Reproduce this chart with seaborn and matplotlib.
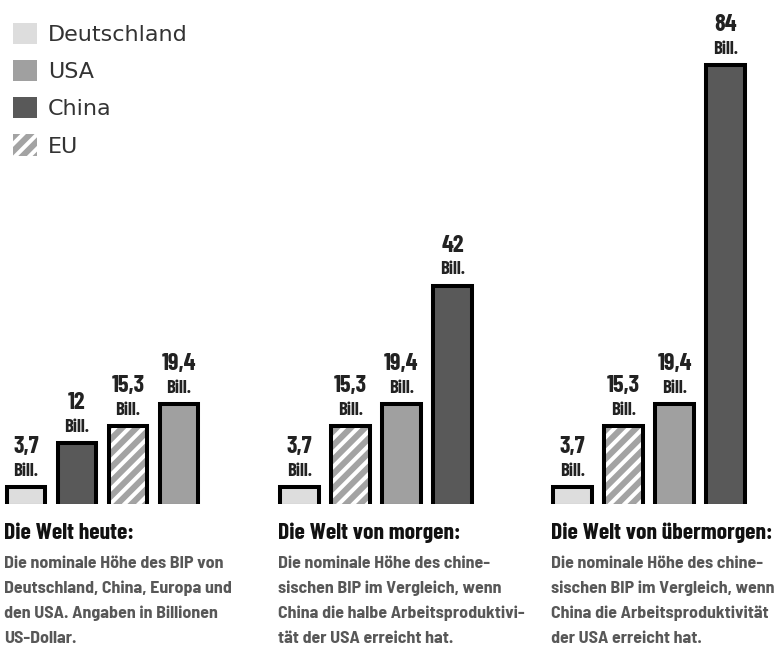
import matplotlib
matplotlib.use("Agg")
import matplotlib.pyplot as plt
from matplotlib.patches import Patch
from matplotlib.colors import to_rgba
from matplotlib.backend_bases import GraphicsContextBase
import seaborn as sns
import pandas as pd

# data
countries_heute = ["Deutschland", "China", "EU", "USA"]
values_heute = [3.7, 12, 15.3, 19.4]
countries_morgen = ["Deutschland", "EU", "USA", "China"]
values_morgen = [3.7, 15.3, 19.4, 42]
countries_uebermorgen = ["Deutschland", "EU", "USA", "China"]
values_uebermorgen = [3.7, 15.3, 19.4, 84]

legend_order = ["Deutschland", "USA", "China", "EU"]
titles = ["Die Welt heute:", "Die Welt von morgen:", "Die Welt von übermorgen:"]
captions = [
    ["Die nominale Höhe des BIP von", "Deutschland, China, Europa und",
     "den USA. Angaben in Billionen", "US-Dollar."],
    ["Die nominale Höhe des chine-", "sischen BIP im Vergleich, wenn",
     "China die halbe Arbeitsproduktivi-", "tät der USA erreicht hat."],
    ["Die nominale Höhe des chine-", "sischen BIP im Vergleich, wenn",
     "China die Arbeitsproduktivität", "der USA erreicht hat."],
]

colors = {"Deutschland": "#dddddd", "USA": "#a0a0a0", "China": "#595959", "EU": "#a3a3a3"}

# slightly denser stripes than the default '//' (14 lines per tile, even -> no seams)
_orig_hatch = GraphicsContextBase.get_hatch_path
GraphicsContextBase.get_hatch_path = lambda self, density=6.0: _orig_hatch(self, 7)

sns.set_theme(style="white")
plt.rcParams["hatch.linewidth"] = 2.9
cond = ["Barlow Condensed", "Roboto Condensed", "DejaVu Sans"]
semi = ["Barlow Semi Condensed", "Barlow Condensed", "DejaVu Sans"]

W, H = 779, 656
fig = plt.figure(figsize=(W / 100, H / 100), dpi=100)

base_px = 504          # y of baseline from top
scale = 5.25           # px per unit
ymin = 0.4
ytop = ymin + base_px / scale

groups = [(countries_heute, values_heute, 0.5),
          (countries_morgen, values_morgen, 274),
          (countries_uebermorgen, values_uebermorgen, 547)]

for (cats, vals, left), title, cap in zip(groups, titles, captions):
    ax = fig.add_axes([left / W, (H - base_px) / H, 204 / W, base_px / H])
    df = pd.DataFrame({"land": cats, "bip": vals})
    sns.barplot(data=df, x="land", y="bip", hue="land", palette=colors,
                order=cats, width=0.75, edgecolor="black", linewidth=2.9,
                legend=False, ax=ax)
    for p, c, v in zip(ax.patches, cats, vals):
        if c == "EU":
            # white stripes on grey, black outline kept
            p.set_hatch("//")
            p._hatch_color = to_rgba("white")
        x = p.get_x() + p.get_width() / 2
        h = p.get_height()
        ax.annotate("Bill.", (x, h), xytext=(0, 8.0), textcoords="offset points",
                    ha="center", va="baseline", fontsize=13.5, fontweight="bold",
                    family=cond, color="#222222", annotation_clip=False)
        ax.annotate(f"{v:g}".replace(".", ","), (x, h), xytext=(0, 24.5),
                    textcoords="offset points", ha="center", va="baseline",
                    fontsize=17.5, fontweight="bold", family=cond, color="#222222",
                    annotation_clip=False)
    ax.set_xlim(-0.5, 3.5)
    ax.set_ylim(ymin, ytop)
    ax.axis("off")

    tx = (left + 4) / W
    fig.text(tx, (H - 539) / H, title, fontsize=17, fontweight="bold",
             family=cond, color="#111111", va="baseline")
    for i, line in enumerate(cap):
        fig.text(tx, (H - 568 - 25 * i) / H, line, fontsize=12.9,
                 fontweight="bold", family=semi, color="#585858", va="baseline")

handles = []
for name in legend_order:
    if name == "EU":
        handles.append(Patch(facecolor=colors[name], edgecolor="white", hatch="//",
                             linewidth=0, label=name))
    else:
        handles.append(Patch(facecolor=colors[name], edgecolor="none",
                             linewidth=0, label=name))
leg = fig.legend(handles=handles, loc="upper left", bbox_to_anchor=(0.0, 1 - 10 / H),
                 frameon=False, fontsize=16, handlelength=1.08, handleheight=1.08,
                 labelspacing=0.68, handletextpad=0.5, borderaxespad=0.18)
for t in leg.get_texts():
    t.set_color("#333333")
    t.set_fontfamily(["DejaVu Sans"])

fig.savefig("out.png", dpi=100)
